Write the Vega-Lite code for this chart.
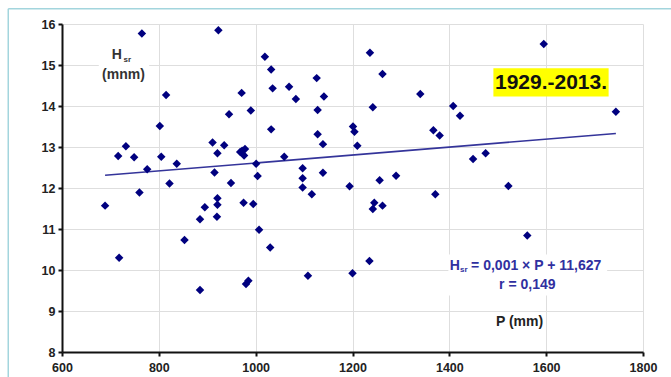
{
  "$schema": "https://vega.github.io/schema/vega-lite/v6.json",
  "width": 581,
  "height": 328,
  "autosize": {"type": "none"},
  "padding": {"left": 62, "top": 24, "right": 28, "bottom": 25},
  "background": "white",
  "config": {
    "view": {"stroke": null},
    "font": "Liberation Sans",
    "axis": {
      "labelFont": "Liberation Sans",
      "labelFontSize": 12.5,
      "labelFontWeight": "bold",
      "labelColor": "#222222",
      "domainColor": "#111111",
      "domainWidth": 2,
      "tickColor": "#111111",
      "tickWidth": 2,
      "tickSize": 4,
      "gridColor": "#dedede",
      "gridWidth": 1,
      "title": null,
      "format": "d"
    }
  },
  "datasets": {
    "points": [
      {"P": 765, "H": 15.77}, {"P": 923, "H": 15.85}, {"P": 815, "H": 14.27}, {"P": 971, "H": 14.32},
      {"P": 802, "H": 13.51}, {"P": 945, "H": 13.8}, {"P": 990, "H": 13.89}, {"P": 732, "H": 13.02},
      {"P": 716, "H": 12.78}, {"P": 749, "H": 12.75}, {"P": 805, "H": 12.76}, {"P": 776, "H": 12.46},
      {"P": 837, "H": 12.59}, {"P": 911, "H": 13.11}, {"P": 935, "H": 13.04}, {"P": 921, "H": 12.85},
      {"P": 968, "H": 12.88}, {"P": 978, "H": 12.95}, {"P": 976, "H": 12.79}, {"P": 972, "H": 12.91},
      {"P": 1001, "H": 12.59}, {"P": 915, "H": 12.38}, {"P": 822, "H": 12.11}, {"P": 949, "H": 12.12},
      {"P": 1004, "H": 12.29}, {"P": 1019, "H": 15.2}, {"P": 1032, "H": 14.89}, {"P": 1035, "H": 14.43},
      {"P": 1069, "H": 14.47}, {"P": 1083, "H": 14.17}, {"P": 1126, "H": 14.68}, {"P": 1141, "H": 14.23},
      {"P": 1128, "H": 13.9}, {"P": 1032, "H": 13.43}, {"P": 1128, "H": 13.31}, {"P": 1139, "H": 13.07},
      {"P": 1236, "H": 15.3}, {"P": 1262, "H": 14.78}, {"P": 1340, "H": 14.29}, {"P": 1242, "H": 13.97},
      {"P": 1201, "H": 13.5}, {"P": 1204, "H": 13.37}, {"P": 1210, "H": 13.03}, {"P": 1367, "H": 13.41},
      {"P": 1380, "H": 13.28}, {"P": 1408, "H": 14.0}, {"P": 1422, "H": 13.76}, {"P": 1059, "H": 12.76},
      {"P": 1097, "H": 12.48}, {"P": 1097, "H": 12.24}, {"P": 1139, "H": 12.37}, {"P": 1256, "H": 12.19},
      {"P": 1290, "H": 12.3}, {"P": 1097, "H": 12.01}, {"P": 1194, "H": 12.04}, {"P": 1371, "H": 11.85},
      {"P": 1595, "H": 15.51}, {"P": 1744, "H": 13.86}, {"P": 1449, "H": 12.71}, {"P": 1475, "H": 12.85},
      {"P": 1522, "H": 12.05}, {"P": 1561, "H": 10.84}, {"P": 760, "H": 11.89}, {"P": 689, "H": 11.57},
      {"P": 921, "H": 11.75}, {"P": 921, "H": 11.59}, {"P": 895, "H": 11.53}, {"P": 885, "H": 11.24},
      {"P": 920, "H": 11.3}, {"P": 975, "H": 11.64}, {"P": 995, "H": 11.61}, {"P": 1007, "H": 10.98},
      {"P": 853, "H": 10.73}, {"P": 718, "H": 10.3}, {"P": 885, "H": 9.51}, {"P": 980, "H": 9.66},
      {"P": 985, "H": 9.74}, {"P": 1116, "H": 11.85}, {"P": 1030, "H": 10.55}, {"P": 1245, "H": 11.64},
      {"P": 1242, "H": 11.49}, {"P": 1262, "H": 11.57}, {"P": 1235, "H": 10.22}, {"P": 1108, "H": 9.86},
      {"P": 1200, "H": 9.92}
    ],
    "trend": [{"P": 689, "H": 12.31}, {"P": 1744, "H": 13.33}],
    "one": [{}]
  },
  "layer": [
    {
      "data": {"name": "points"},
      "mark": {"type": "point", "opacity": 0},
      "encoding": {
        "x": {"field": "P", "type": "quantitative", "scale": {"domain": [600, 1800], "nice": false, "zero": false},
              "axis": {"values": [600, 800, 1000, 1200, 1400, 1600, 1800], "labelPadding": 5, "labelFlush": false, "labelOverlap": false, "grid": true}},
        "y": {"field": "H", "type": "quantitative", "scale": {"domain": [8, 16], "nice": false, "zero": false},
              "axis": {"values": [8, 9, 10, 11, 12, 13, 14, 15, 16], "labelPadding": 3, "grid": true}}
      }
    },
    {
      "data": {"name": "one"},
      "mark": {"type": "rect", "color": "white"},
      "encoding": {
        "x": {"datum": 676, "type": "quantitative"}, "x2": {"datum": 780},
        "y": {"datum": 15.55, "type": "quantitative"}, "y2": {"datum": 14.47}
      }
    },
    {
      "data": {"name": "one"},
      "mark": {"type": "rect", "color": "white"},
      "encoding": {
        "x": {"datum": 1398, "type": "quantitative"}, "x2": {"datum": 1726},
        "y": {"datum": 10.38, "type": "quantitative"}, "y2": {"datum": 9.38}
      }
    },
    {
      "data": {"name": "one"},
      "mark": {"type": "rect", "color": "#ffff00"},
      "encoding": {
        "x": {"datum": 1491, "type": "quantitative"}, "x2": {"datum": 1729},
        "y": {"datum": 14.92, "type": "quantitative"}, "y2": {"datum": 14.23}
      }
    },
    {
      "data": {"name": "trend"},
      "mark": {"type": "line", "color": "#34349a", "strokeWidth": 1.6},
      "encoding": {
        "x": {"field": "P", "type": "quantitative"},
        "y": {"field": "H", "type": "quantitative"}
      }
    },
    {
      "data": {"name": "points"},
      "mark": {"type": "point", "shape": "diamond", "filled": true, "color": "#00007f", "opacity": 1, "size": 72},
      "encoding": {
        "x": {"field": "P", "type": "quantitative"},
        "y": {"field": "H", "type": "quantitative"}
      }
    },
    {
      "data": {"name": "one"},
      "mark": {"type": "text", "text": "1929.-2013.", "font": "Liberation Sans", "fontSize": 21, "fontWeight": "bold", "color": "#111111", "align": "center", "baseline": "middle"},
      "encoding": {"x": {"datum": 1610, "type": "quantitative"}, "y": {"datum": 14.55, "type": "quantitative"}}
    },
    {
      "data": {"name": "one"},
      "mark": {"type": "text", "text": "H", "font": "Liberation Sans", "fontSize": 14, "fontWeight": "bold", "color": "#333333", "align": "center", "baseline": "middle"},
      "encoding": {"x": {"datum": 713, "type": "quantitative"}, "y": {"datum": 15.24, "type": "quantitative"}}
    },
    {
      "data": {"name": "one"},
      "mark": {"type": "text", "text": "sr", "font": "Liberation Sans", "fontSize": 8, "fontWeight": "bold", "color": "#333333", "align": "left", "baseline": "middle"},
      "encoding": {"x": {"datum": 727, "type": "quantitative"}, "y": {"datum": 15.13, "type": "quantitative"}}
    },
    {
      "data": {"name": "one"},
      "mark": {"type": "text", "text": "(mnm)", "font": "Liberation Sans", "fontSize": 14, "fontWeight": "bold", "color": "#333333", "align": "center", "baseline": "middle"},
      "encoding": {"x": {"datum": 727, "type": "quantitative"}, "y": {"datum": 14.76, "type": "quantitative"}}
    },
    {
      "data": {"name": "one"},
      "mark": {"type": "text", "text": "H", "font": "Liberation Sans", "fontSize": 14, "fontWeight": "bold", "color": "#3030a0", "align": "left", "baseline": "middle"},
      "encoding": {"x": {"datum": 1401, "type": "quantitative"}, "y": {"datum": 10.1, "type": "quantitative"}}
    },
    {
      "data": {"name": "one"},
      "mark": {"type": "text", "text": "sr", "font": "Liberation Sans", "fontSize": 8, "fontWeight": "bold", "color": "#3030a0", "align": "left", "baseline": "middle"},
      "encoding": {"x": {"datum": 1422, "type": "quantitative"}, "y": {"datum": 9.99, "type": "quantitative"}}
    },
    {
      "data": {"name": "one"},
      "mark": {"type": "text", "text": "= 0,001 × P + 11,627", "font": "Liberation Sans", "fontSize": 14, "fontWeight": "bold", "color": "#3030a0", "align": "left", "baseline": "middle"},
      "encoding": {"x": {"datum": 1445, "type": "quantitative"}, "y": {"datum": 10.1, "type": "quantitative"}}
    },
    {
      "data": {"name": "one"},
      "mark": {"type": "text", "text": "r = 0,149", "font": "Liberation Sans", "fontSize": 14, "fontWeight": "bold", "color": "#3030a0", "align": "center", "baseline": "middle"},
      "encoding": {"x": {"datum": 1561, "type": "quantitative"}, "y": {"datum": 9.63, "type": "quantitative"}}
    },
    {
      "data": {"name": "one"},
      "mark": {"type": "text", "text": "P (mm)", "font": "Liberation Sans", "fontSize": 14, "fontWeight": "bold", "color": "#222222", "align": "center", "baseline": "middle"},
      "encoding": {"x": {"datum": 1545, "type": "quantitative"}, "y": {"datum": 8.74, "type": "quantitative"}}
    },
    {
      "data": {"name": "one"},
      "mark": {"type": "rule", "color": "#a3d5dd", "strokeWidth": 1.5},
      "encoding": {"x": {"datum": 489, "type": "quantitative"}, "y": {"datum": 16.37, "type": "quantitative"}, "y2": {"datum": 7.3}}
    },
    {
      "data": {"name": "one"},
      "mark": {"type": "rule", "color": "#a3d5dd", "strokeWidth": 1.5},
      "encoding": {"x": {"datum": 489, "type": "quantitative"}, "x2": {"datum": 1870}, "y": {"datum": 16.37, "type": "quantitative"}}
    }
  ]
}
